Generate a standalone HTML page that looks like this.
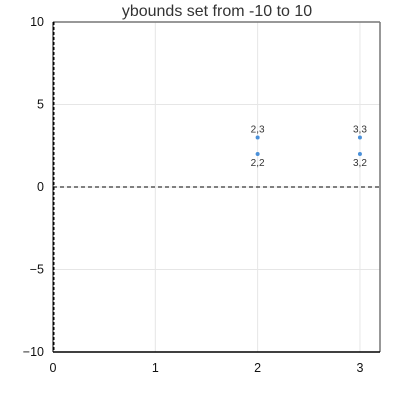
<!DOCTYPE html>
<html><head><meta charset="utf-8"><style>
body{margin:0;background:#fff;}
svg{display:block;font-family:"Liberation Sans",sans-serif;}
</style></head><body>
<svg id="c" width="400" height="400">
<text x="217" y="16" text-anchor="middle" font-size="16" fill="#333">ybounds set from -10 to 10</text>
<g id="g"></g>
</svg>
<script>
const xs=[2,2,3,3];
const ys=[3,2,3,2];
const pointLabels=["2,3","2,2","3,3","3,2"];
const xTicks=[0,1,2,3];
const yTicks=[-10,-5,0,5,10];
const yTickLabels=["\u221210","\u22125","0","5","10"];
const L=53,R=380,T=22,B=352,xmin=0,xmax=3.196,ymin=-10,ymax=10;
const X=v=>L+(v-xmin)/(xmax-xmin)*(R-L);
const Y=v=>B-(v-ymin)/(ymax-ymin)*(B-T);
const g=document.getElementById('g');
const ns='http://www.w3.org/2000/svg';
function mk(t,a,txt){const e=document.createElementNS(ns,t);for(const k in a)e.setAttribute(k,a[k]);if(txt!=null)e.textContent=txt;g.appendChild(e);return e;}
xTicks.forEach(v=>{
 const l=mk('line',{x1:X(v),x2:X(v),y1:T,y2:B,stroke:'#e6e6e6'});
 
 
 const t=mk('text',{x:X(v),y:B+20,'text-anchor':'middle','font-size':12.5,fill:'#111'},String(v));
 
 
});
yTicks.forEach((v,i)=>{
 const l=mk('line',{x1:L,x2:R,y1:Y(v),y2:Y(v),stroke:'#e6e6e6'});
 
 
 const t=mk('text',{x:L-9,y:Y(v)+4,'text-anchor':'end','font-size':12.5,fill:'#111'},yTickLabels[i]);
 
 
});
let f=mk('line',{x1:L,x2:R,y1:T,y2:T,stroke:'#777','stroke-width':1.5});


f=mk('line',{x1:R,x2:R,y1:T,y2:B,stroke:'#777','stroke-width':1.5});


f=mk('line',{x1:L,x2:R,y1:B,y2:B,stroke:'#000','stroke-width':1.5});


f=mk('line',{x1:L,x2:L,y1:T,y2:B,stroke:'#000','stroke-width':1});


f=mk('line',{x1:X(0)+1,x2:X(0)+1,y1:T,y2:B,stroke:'#000','stroke-width':1,'stroke-dasharray':'3,2'});


f=mk('line',{x1:L,x2:R,y1:Y(0),y2:Y(0),stroke:'#000','stroke-width':1,'stroke-dasharray':'4,3'});


xs.forEach((x,i)=>{
 const c=mk('circle',{cx:X(x),cy:Y(ys[i]),r:2,fill:'#4a90d9'});
 
 
 const above=i%2===0;
 const t=mk('text',{x:X(x),y:above?Y(ys[i])-5:Y(ys[i])+12,'text-anchor':'middle','font-size':10,fill:'#333'},pointLabels[i]);
 
 
});
</script>
</body></html>
